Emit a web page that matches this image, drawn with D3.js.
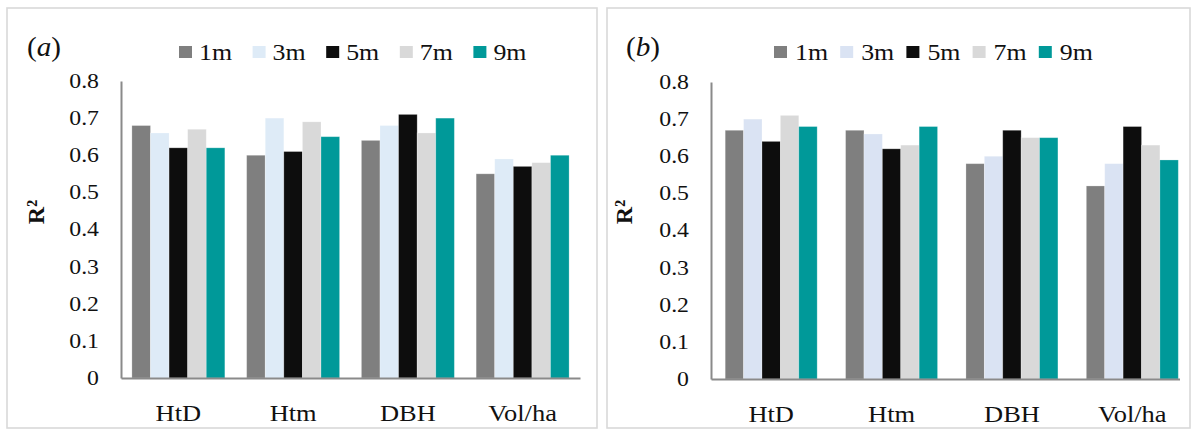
<!DOCTYPE html>
<html>
<head>
<meta charset="utf-8">
<script src="https://cdn.jsdelivr.net/npm/d3@7"></script>
<style>
  html, body { margin: 0; padding: 0; background: #ffffff; }
  svg { display: block; }
</style>
</head>
<body>
<svg id="chart" width="1196" height="432"></svg>
<script>
// Categories and series
const categories = ["HtD", "Htm", "DBH", "Vol/ha"];
const seriesNames = ["1m", "3m", "5m", "7m", "9m"];
const yTickValues = [0, 0.1, 0.2, 0.3, 0.4, 0.5, 0.6, 0.7, 0.8];
const yTickLabels = ["0", "0.1", "0.2", "0.3", "0.4", "0.5", "0.6", "0.7", "0.8"];

// Panel (a): R² per category for each distance
const a1m = [0.68, 0.60, 0.64, 0.55];
const a3m = [0.66, 0.70, 0.68, 0.59];
const a5m = [0.62, 0.61, 0.71, 0.57];
const a7m = [0.67, 0.69, 0.66, 0.58];
const a9m = [0.62, 0.65, 0.70, 0.60];

// Panel (b): R² per category for each distance
const b1m = [0.67, 0.67, 0.58, 0.52];
const b3m = [0.70, 0.66, 0.60, 0.58];
const b5m = [0.64, 0.62, 0.67, 0.68];
const b7m = [0.71, 0.63, 0.65, 0.63];
const b9m = [0.68, 0.68, 0.65, 0.59];

const FONT = "'Liberation Serif', Tinos, 'Times New Roman', Times, serif";
const svg = d3.select("#chart");

// Serif text, slightly widened horizontally
function stext(parent, x, y, str, o) {
  const t = parent.append("text")
    .attr("transform", `translate(${x},${y}) scale(${o.sx || 1},1)` + (o.rotate ? ` rotate(${o.rotate})` : ""))
    .attr("font-family", FONT)
    .attr("fill", "#111111")
    .attr("font-size", o.size)
    .attr("text-anchor", o.anchor || "start")
    .attr("font-weight", o.weight || "normal");
  if (o.dy) t.attr("dy", o.dy);
  t.text(str);
  return t;
}

function drawPanel(cfg) {
  const g = svg.append("g");

  // panel frame
  g.append("rect")
    .attr("x", cfg.frame[0]).attr("y", cfg.frame[1])
    .attr("width", cfg.frame[2] - cfg.frame[0]).attr("height", cfg.frame[3] - cfg.frame[1])
    .attr("fill", "none").attr("stroke", "#d9d9d9").attr("stroke-width", 1.6);

  const x = d3.scaleBand().domain(categories)
    .range(cfg.xRange).paddingInner(cfg.gap).paddingOuter(cfg.gap / 2);
  const xs = d3.scaleBand().domain(seriesNames).range([0, x.bandwidth()]).padding(0);
  const y = d3.scaleLinear().domain([0, 0.8]).range(cfg.yRange);
  const color = d3.scaleOrdinal().domain(seriesNames).range(cfg.colors);

  const clipId = "clip-" + cfg.id;
  svg.append("defs").append("clipPath").attr("id", clipId)
    .append("rect").attr("x", cfg.xRange[0] - 5).attr("y", 0)
    .attr("width", cfg.clipRight - cfg.xRange[0] + 5).attr("height", 432);

  const plot = g.append("g").attr("clip-path", `url(#${clipId})`);

  // bars with a faint light edge
  const rows = [];
  seriesNames.forEach((s, si) => {
    cfg.series[si].forEach((v, ci) => rows.push({ s, c: categories[ci], v }));
  });
  plot.selectAll("rect.bar").data(rows).enter().append("rect")
    .attr("class", "bar")
    .attr("x", d => x(d.c) + xs(d.s))
    .attr("width", xs.bandwidth())
    .attr("y", d => y(d.v))
    .attr("height", d => y(0) - y(d.v))
    .attr("fill", d => color(d.s))
    .attr("stroke", "#ffffff")
    .attr("stroke-opacity", 0.3)
    .attr("stroke-width", 0.8);

  // x axis
  const xAxis = plot.append("g")
    .attr("transform", `translate(0,${cfg.yRange[0]})`)
    .call(d3.axisBottom(x).tickSize(0).tickSizeOuter(0).tickFormat(() => ""));
  xAxis.select(".domain").attr("stroke", "#8a8a8a").attr("stroke-width", 2);
  categories.forEach(c => {
    stext(g, x(c) + x.bandwidth() / 2, cfg.yRange[0] + 43, c, { size: 23, sx: 1.15, anchor: "middle" });
  });

  // y axis
  const yAxis = g.append("g")
    .attr("transform", `translate(${cfg.xRange[0]},0)`)
    .call(d3.axisLeft(y).tickValues(yTickValues).tickSize(0).tickSizeOuter(0).tickFormat(() => ""));
  yAxis.select(".domain").attr("stroke", "#8a8a8a").attr("stroke-width", 2);
  yTickValues.forEach((v, i) => {
    stext(g, cfg.xRange[0] - 22, y(v), yTickLabels[i], { size: 20.5, sx: 1.16, anchor: "end", dy: "0.34em" });
  });

  // axis title
  stext(g, cfg.titleX, cfg.titleY, "R²", { size: 24, weight: "bold", anchor: "middle", rotate: -90 });

  // panel tag
  const tag = g.append("text")
    .attr("transform", `translate(${cfg.tagX},56) scale(1.08,1)`)
    .attr("font-family", FONT).attr("fill", "#111111")
    .attr("font-size", 27);
  tag.append("tspan").text("(");
  tag.append("tspan").attr("font-style", "italic").text(cfg.tag);
  tag.append("tspan").text(")");

  // legend
  seriesNames.forEach((s, i) => {
    const lx = cfg.legendX + i * cfg.legendStep;
    g.append("rect").attr("x", lx).attr("y", 46).attr("width", 13).attr("height", 12)
      .attr("fill", color(s));
    stext(g, lx + cfg.legendTextGap, 52, s, { size: 23.5, sx: 1.1, dy: "0.34em" });
  });
}

drawPanel({
  id: "a", tag: "a",
  frame: [7, 8, 597, 428],
  xRange: [121, 580], clipRight: 600, gap: 0.19,
  yRange: [378, 81],
  colors: ["#7f7f7f", "#deebf7", "#0d0d0d", "#d9d9d9", "#009999"],
  series: [a1m, a3m, a5m, a7m, a9m],
  titleX: 44, titleY: 212, tagX: 27,
  legendX: 179, legendStep: 73.6, legendTextGap: 20
});

drawPanel({
  id: "b", tag: "b",
  frame: [607, 8, 1190, 428],
  xRange: [711, 1192.5], clipRight: 1180, gap: 0.236,
  yRange: [379, 82],
  colors: ["#7f7f7f", "#dae3f3", "#0d0d0d", "#d9d9d9", "#009999"],
  series: [b1m, b3m, b5m, b7m, b9m],
  titleX: 632, titleY: 212, tagX: 626,
  legendX: 774, legendStep: 66.2, legendTextGap: 21
});
</script>
</body>
</html>
